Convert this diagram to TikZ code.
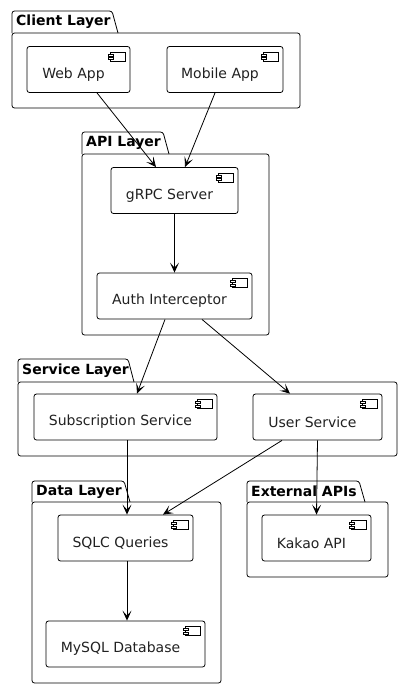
\documentclass[tikz,border=0pt]{standalone}
\usepackage{fontspec}
\setmainfont{DejaVu Sans}
\usetikzlibrary{arrows.meta}
\tikzset{>={Stealth[length=10pt,width=9pt,inset=5pt]},
	comp/.style={% component boxes, text sits a bit left of centre
		draw, rectangle,
		rounded corners=2.5pt,
		minimum height=46pt,
		inner sep=0pt,
		line width=0.8pt
	},
	pkg/.style={draw, rounded corners=2.5pt, line width=0.8pt},
	pkglabel/.style={anchor=west, inner sep=0pt, font=\fontsize{14}{16}\selectfont\bfseries},
	every label/.style={font=\fontsize{14}{16}\selectfont, text=black!87},
	flow/.style={->, line width=0.8pt}
}
\newcommand{\compicon}[1]{% little component glyph, upper right corner
	\draw[line width=0.7pt] ([xshift=-20pt,yshift=-6pt]#1.north east) rectangle ++(15pt,-9pt);
	\draw[line width=0.7pt,fill=white] ([xshift=-22pt,yshift=-8pt]#1.north east) rectangle ++(5pt,-2pt);
	\draw[line width=0.7pt,fill=white] ([xshift=-22pt,yshift=-11.5pt]#1.north east) rectangle ++(5pt,-2pt);
}
\newcommand{\layer}[8]{% name, left, tab top, body top, right, bottom, tab end, title
	\draw[pkg] (#2,#4) rectangle (#5,#6);
	\draw[pkg] (#2,#4) -- (#2,#3) -- (#7,#3) -- ({#7+6},#4);
	\node[pkglabel] (#1) at ({#2+4},{(#3+#4)/2}) {#8};
}

\begin{document}
\begin{tikzpicture}[x=1pt, y=-1pt]
	\useasboundingbox (0,0) rectangle (403,689);
	
	% packages
	\layer{client}{12}{11}{33}{300}{108}{112}{Client Layer}
	\layer{api}{82}{132}{154}{269}{335}{163}{API Layer}
	\layer{service}{18}{359}{382}{397}{456}{128}{Service Layer}
	\layer{data}{32}{481}{502}{221}{683}{124}{Data Layer}
	\layer{external}{247}{481}{502}{388}{577}{359}{External APIs}
	
	% components
	\node[comp, minimum width=103pt, label={[xshift=-5pt,yshift=-5pt]center:Web App}] (web) at (78.5,69.5) {};
	\node[comp, minimum width=116pt, label={[xshift=-5pt,yshift=-5pt]center:Mobile App}] (mobile) at (225,69.5) {};
	\node[comp, minimum width=127pt, label={[xshift=-5pt,yshift=-5pt]center:gRPC Server}] (grpc) at (174.5,190.5) {};
	\node[comp, minimum width=155pt, label={[xshift=-5pt,yshift=-5pt]center:Auth Interceptor}] (auth) at (174.5,296) {};
	\node[comp, minimum width=183pt, label={[xshift=-5pt,yshift=-5pt]center:Subscription Service}] (subs) at (125.5,417) {};
	\node[comp, minimum width=129pt, label={[xshift=-5pt,yshift=-5pt]center:User Service}] (user) at (317.5,417) {};
	\node[comp, minimum width=135pt, label={[xshift=-5pt,yshift=-5pt]center:SQLC Queries}] (sqlc) at (125.5,538) {};
	\node[comp, minimum width=159pt, label={[xshift=-5pt,yshift=-5pt]center:MySQL Database}] (mysql) at (125.5,644) {};
	\node[comp, minimum width=109pt, label={[xshift=-5pt,yshift=-5pt]center:Kakao API}] (kakao) at (316.5,538) {};
	\foreach \c in {web,mobile,grpc,auth,subs,user,sqlc,mysql,kakao}{
		\compicon{\c}
	}
	
	% connectors
	\draw[flow] ([xshift=18.5pt]web.south) -- ([xshift=-18.5pt]grpc.north);
	\draw[flow] ([xshift=-10pt]mobile.south) -- ([xshift=10.5pt]grpc.north);
	\draw[flow] (grpc) -- (auth);
	\draw[flow] ([xshift=-9.5pt]auth.south) -- ([xshift=11.5pt]subs.north);
	\draw[flow] ([xshift=27.5pt]auth.south) -- ([xshift=-27.5pt]user.north);
	\draw[flow] ([xshift=1.5pt]subs.south) -- ([xshift=1.5pt]sqlc.north);
	\draw[flow] ([xshift=-35.5pt]user.south) -- ([xshift=37.5pt]sqlc.north);
	\draw[flow] (user.south) -- (kakao.north);
	\draw[flow] ([xshift=1.5pt]sqlc.south) -- ([xshift=1.5pt]mysql.north);
\end{tikzpicture}
\end{document}
